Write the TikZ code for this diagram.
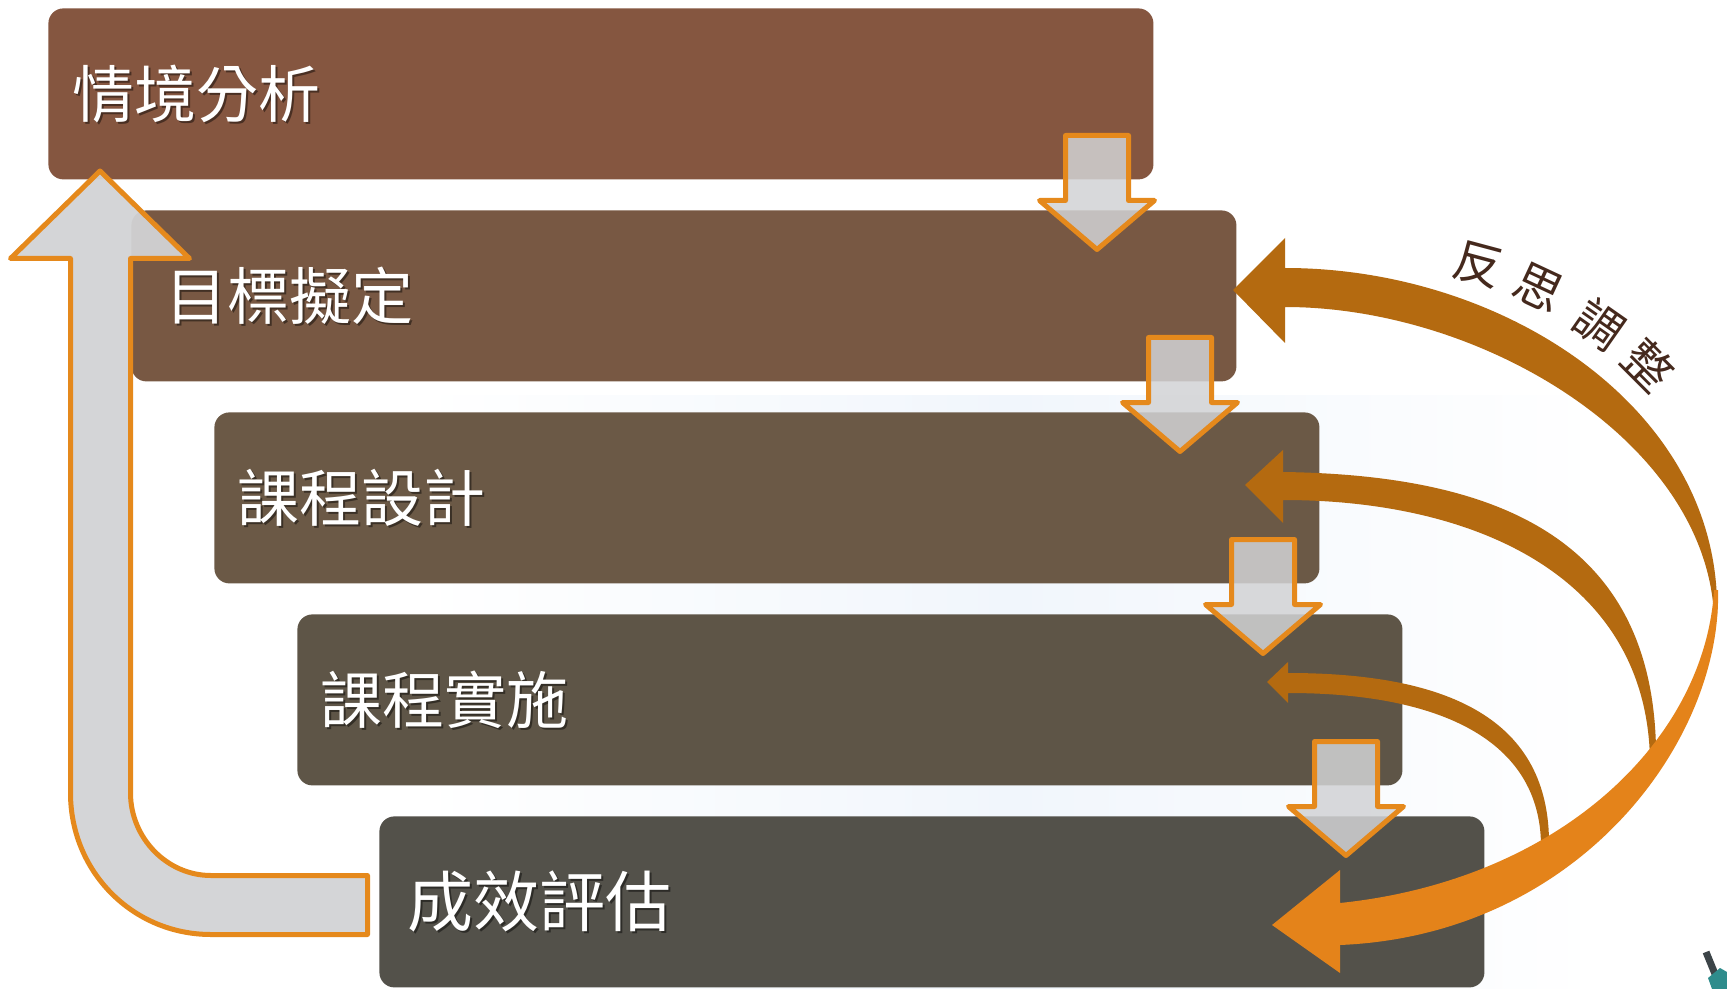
\documentclass[tikz,border=0pt]{standalone}
\usepackage{fontspec}
\newfontfamily\cjk{Noto Sans CJK TC}
\definecolor{bA}{HTML}{855640}
\definecolor{bB}{HTML}{785843}
\definecolor{bC}{HTML}{6B5946}
\definecolor{bD}{HTML}{5E5547}
\definecolor{bE}{HTML}{53514A}
\definecolor{arrgray}{HTML}{D2D3D5}
\definecolor{arrorange}{HTML}{E5891C}
\definecolor{darkor}{HTML}{B46A10}
\definecolor{lightor}{HTML}{E4831A}
\definecolor{labelbrown}{HTML}{45291D}
\definecolor{bgblue}{HTML}{F1F6FC}
\definecolor{icondark}{HTML}{3C4448}
\definecolor{iconteal}{HTML}{2E8C8C}
\tikzset{
  stage/.style={rounded corners=7.5pt, inner sep=0pt, minimum width=552.5pt, minimum height=85.5pt, anchor=north west, draw=none},
  lbl/.style={anchor=west, inner sep=0pt, text=white, font=\cjk\fontsize{31}{31}\selectfont},
  lblbig/.style={lbl, font=\cjk\fontsize{33}{33}\selectfont},
  shadowtxt/.style={text=black, text opacity=0.45},
  blockarrow/.style={fill=arrgray, fill opacity=0.85, draw=arrorange, line width=2.5pt, line join=round},
  downarr/.pic={\path[blockarrow] (-31.5,0) -- (31.5,0) -- (31.5,65) -- (57.5,65) -- (0,114) -- (-57.5,65) -- (-31.5,65) -- cycle;},
  reflect/.style={anchor=center, inner sep=0pt, text=labelbrown, font=\cjk\fontsize{24}{24}\selectfont},
}
\begin{document}
\begin{tikzpicture}[x=0.5pt,y=-0.5pt]
\useasboundingbox (0,0) rectangle (1727,989);
\fill[white] (0,0) rectangle (1727,989);
% faint background tint
\shade[left color=white, right color=white, middle color=bgblue] (420,395) rectangle (1600,989);

% stage boxes
\node[stage, fill=bA] (b1) at (48,8) {};
\node[stage, fill=bB] (b2) at (131,210) {};
\node[stage, fill=bC] (b3) at (214,412) {};
\node[stage, fill=bD] (b4) at (297,614) {};
\node[stage, fill=bE] (b5) at (379,816) {};

% labels with shadow
\node[lbl, shadowtxt] (s1) at (74,96) {情境分析};
\node[lbl] (t1) at (72,94) {情境分析};
\node[lbl, shadowtxt] (s2) at (167,298) {目標擬定};
\node[lbl] (t2) at (165,296) {目標擬定};
\node[lbl, shadowtxt] (s3) at (239,500) {課程設計};
\node[lbl] (t3) at (237,498) {課程設計};
\node[lbl, shadowtxt] (s4) at (322,702) {課程實施};
\node[lbl] (t4) at (320,700) {課程實施};
\node[lblbig, shadowtxt] (s5) at (409,904) {成效評估};
\node[lblbig] (t5) at (407,902) {成效評估};

% big return arrow on the left
\path[blockarrow, fill opacity=0.95] (100,171) -- (189.5,258.5) -- (130.5,258.5) -- (130.5,793)
  .. controls (130.5,837.5) and (166.5,875.5) .. (211,875.5) -- (367.5,875.5) -- (367.5,934.5) -- (211,934.5)
  .. controls (133,934.5) and (70.5,872) .. (70.5,793) -- (70.5,258.5) -- (10.5,258.5) -- cycle;

% down arrows between stages
\pic (d1) at (1097,135.5) {downarr};
\pic (d2) at (1180,337.5) {downarr};
\pic (d3) at (1263,539.5) {downarr};
\pic (d4) at (1346,741.5) {downarr};

% reflection arrows (dark)
\fill[darkor] (1283,472) .. controls (1500,475) and (1660,540) .. (1656,765) -- (1650,765)
  .. controls (1650,580) and (1480,500) .. (1283,500) -- (1283,523) -- (1245,485) -- (1283,450) -- cycle;
\fill[darkor] (1288,673) .. controls (1450,673) and (1550,720) .. (1549,845) -- (1541,845)
  .. controls (1540,740) and (1440,693) .. (1288,693) -- (1288,703) -- (1267,682) -- (1288,662) -- cycle;
\fill[darkor] (1285,268) .. controls (1505,268) and (1722,410) .. (1717,615) -- (1714,615)
  .. controls (1705,440) and (1480,307) .. (1285,307) -- (1285,343) -- (1233,290) -- (1285,238) -- cycle;
% reflection arrow (light, into the last stage)
\fill[lightor] (1340,903) .. controls (1560,880) and (1705,740) .. (1714,590) -- (1718,590)
  .. controls (1722,740) and (1580,935) .. (1340,945) -- (1340,973) -- (1272,925) -- (1340,870) -- cycle;

% label of the reflection arrows
\node[reflect, rotate=-15] (r1) at (1478,265) {反};
\node[reflect, rotate=-25] (r2) at (1539,288) {思};
\node[reflect, rotate=-35] (r3) at (1600,324) {調};
\node[reflect, rotate=-45] (r4) at (1649,365) {整};

% small cut-off icon in the corner
\draw[icondark, line width=3.5pt] (1706,952) -- (1715,974);
\fill[iconteal] (1708,978) -- (1720,968) -- (1727,972) -- (1727,989) -- (1712,989) -- cycle;
\end{tikzpicture}
\end{document}
